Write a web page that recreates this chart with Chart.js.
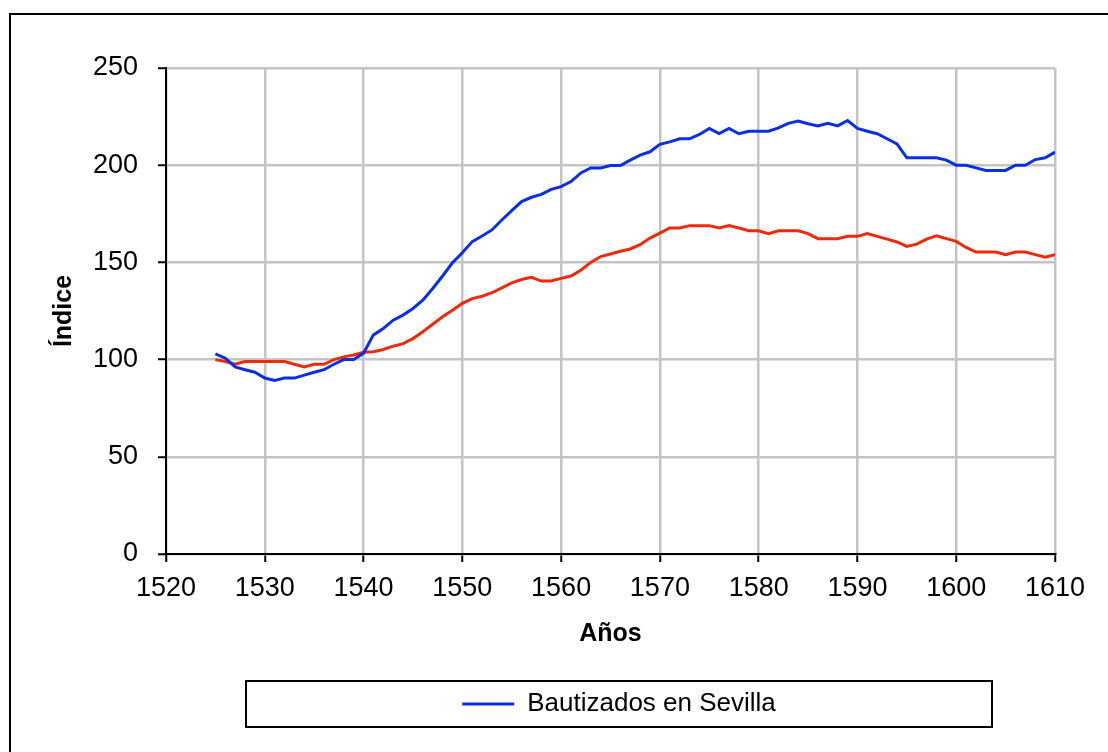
<!DOCTYPE html>
<html>
<head>
<meta charset="utf-8">
<script src="https://cdn.jsdelivr.net/npm/chart.js@4/dist/chart.umd.min.js"></script>
<style>
html,body{margin:0;padding:0;background:#fff;}
#wrap{width:1108px;height:752px;position:relative;}
</style>
</head>
<body>
<div id="wrap"><canvas id="c" width="1108" height="752"></canvas></div>
<script>
const years = [1525,1526,1527,1528,1529,1530,1531,1532,1533,1534,1535,1536,1537,1538,1539,1540,1541,1542,1543,1544,1545,1546,1547,1548,1549,1550,1551,1552,1553,1554,1555,1556,1557,1558,1559,1560,1561,1562,1563,1564,1565,1566,1567,1568,1569,1570,1571,1572,1573,1574,1575,1576,1577,1578,1579,1580,1581,1582,1583,1584,1585,1586,1587,1588,1589,1590,1591,1592,1593,1594,1595,1596,1597,1598,1599,1600,1601,1602,1603,1604,1605,1606,1607,1608,1609,1610];

const bautizadosSevilla = [103,100.7,96.2,94.8,93.5,90.5,89.3,90.5,90.5,92,93.5,94.8,97.6,100,100,103.3,112.7,116,120.3,122.9,126.3,130.6,136.6,143,149.8,155,160.7,163.6,166.7,171.8,176.6,181.3,183.5,185,187.6,189,191.6,196,198.6,198.6,199.8,199.8,202.6,205.2,206.9,210.7,212,213.6,213.6,215.8,218.9,216.3,218.9,216.2,217.5,217.5,217.5,219.2,221.5,222.7,221.3,220.2,221.5,220.2,223,218.9,217.5,216.2,213.6,211,203.8,203.8,203.8,203.8,202.6,200,200,198.6,197.3,197.3,197.3,200,200,202.9,203.8,206.7];

const serieRoja = [100,99,97.6,99,99,99,99,99,97.6,96.2,97.6,97.6,100,101.4,102.4,103.8,104,105.2,106.9,108.2,110.8,114.3,118.2,122,125.4,128.9,131.4,132.6,134.4,136.9,139.5,141.2,142.3,140.4,140.4,141.8,143,146,150,153,154.3,155.7,156.9,159.1,162.5,165.1,167.7,167.7,168.9,168.9,168.9,167.7,168.9,167.7,166.3,166.3,164.8,166.3,166.3,166.3,164.8,162.2,162.2,162.2,163.4,163.4,164.8,163.4,162,160.5,158.2,159.4,162,163.7,162.2,160.8,157.7,155.3,155.3,155.3,154,155.3,155.3,154,152.7,154];

const seriesNames = ['Bautizados en Sevilla', 'Serie 2'];
const xTitle = 'Años';
const yTitle = 'Índice';
const xMin = 1520, xMax = 1610, xStep = 10;
const yMin = 0, yMax = 250, yStep = 50;

const FONT = "'Liberation Sans', Arial, sans-serif";

const framePlugin = {
  id: 'frame',
  beforeDraw(chart) {
    const ctx = chart.ctx;
    ctx.save();
    ctx.fillStyle = '#ffffff';
    ctx.fillRect(0, 0, chart.width, chart.height);
    ctx.strokeStyle = '#000';
    ctx.lineWidth = 2;
    ctx.beginPath();
    ctx.moveTo(10, chart.height);
    ctx.lineTo(10, 14);
    ctx.lineTo(chart.width, 14);
    ctx.stroke();
    ctx.restore();
  },
  afterLayout(chart) {
    const lg = chart.legend;
    if (lg) {
      lg.left = 246; lg.right = 992;
      const h = lg.bottom - lg.top;
      lg.top = 681; lg.bottom = 681 + h;
    }
  },
  afterDraw(chart) {
    const ctx = chart.ctx;
    ctx.save();
    ctx.strokeStyle = '#000';
    ctx.lineWidth = 2;
    ctx.strokeRect(246, 681, 746, 46);
    ctx.restore();
  }
};

new Chart(document.getElementById('c'), {
  type: 'line',
  data: {
    datasets: [
      {
        label: seriesNames[0],
        data: years.map((y, i) => ({x: y, y: bautizadosSevilla[i]})),
        borderColor: '#0a2ee6',
        backgroundColor: '#0a2ee6',
        borderWidth: 3,
        pointRadius: 0,
        tension: 0,
        fill: false
      },
      {
        label: seriesNames[1],
        data: years.map((y, i) => ({x: y, y: serieRoja[i]})),
        borderColor: '#ee2a0a',
        backgroundColor: '#ee2a0a',
        borderWidth: 3,
        pointRadius: 0,
        tension: 0,
        fill: false
      }
    ]
  },
  options: {
    responsive: false,
    animation: false,
    layout: { padding: { top: 68, right: 53, left: 0, bottom: 52 } },
    plugins: {
      tooltip: { enabled: false },
      legend: {
        display: true,
        position: 'bottom',
        fullSize: false,
        labels: {
          color: '#000',
          font: { family: FONT, size: 26 },
          padding: 10,
          boxWidth: 52,
          boxHeight: 3,
          filter: (item) => item.datasetIndex === 0,
          generateLabels: (chart) => chart.data.datasets.map((ds, i) => ({
            text: ds.label,
            fillStyle: ds.borderColor,
            strokeStyle: ds.borderColor,
            lineWidth: 0,
            hidden: false,
            datasetIndex: i
          }))
        }
      }
    },
    scales: {
      x: {
        type: 'linear',
        min: xMin, max: xMax,
        afterFit: (s) => { s.height = 100; },
        ticks: {
          stepSize: xStep,
          color: '#000',
          font: { family: FONT, size: 27 },
          padding: 10,
          maxRotation: 0,
          autoSkip: false,
          callback: (v) => String(v)
        },
        grid: {
          color: '#c4c4c4',
          lineWidth: 2.5,
          tickColor: '#000',
          tickWidth: 2,
          tickLength: 8
        },
        border: { color: '#000', width: 2 },
        title: {
          display: true,
          text: xTitle,
          color: '#000',
          font: { family: FONT, size: 25, weight: 'bold' },
          padding: { top: 0, bottom: 5 }
        }
      },
      y: {
        min: yMin, max: yMax,
        afterFit: (s) => { s.width = 166; },
        ticks: {
          stepSize: yStep,
          color: '#000',
          font: { family: FONT, size: 27 },
          padding: 20
        },
        grid: {
          color: '#c4c4c4',
          lineWidth: 2.5,
          tickColor: '#000',
          tickWidth: 2,
          tickLength: 8
        },
        border: { color: '#000', width: 2 },
        title: {
          display: true,
          text: yTitle,
          color: '#000',
          font: { family: FONT, size: 25, weight: 'bold' },
          padding: { top: 49, bottom: 0 }
        }
      }
    }
  },
  plugins: [framePlugin]
});
</script>
</body>
</html>
